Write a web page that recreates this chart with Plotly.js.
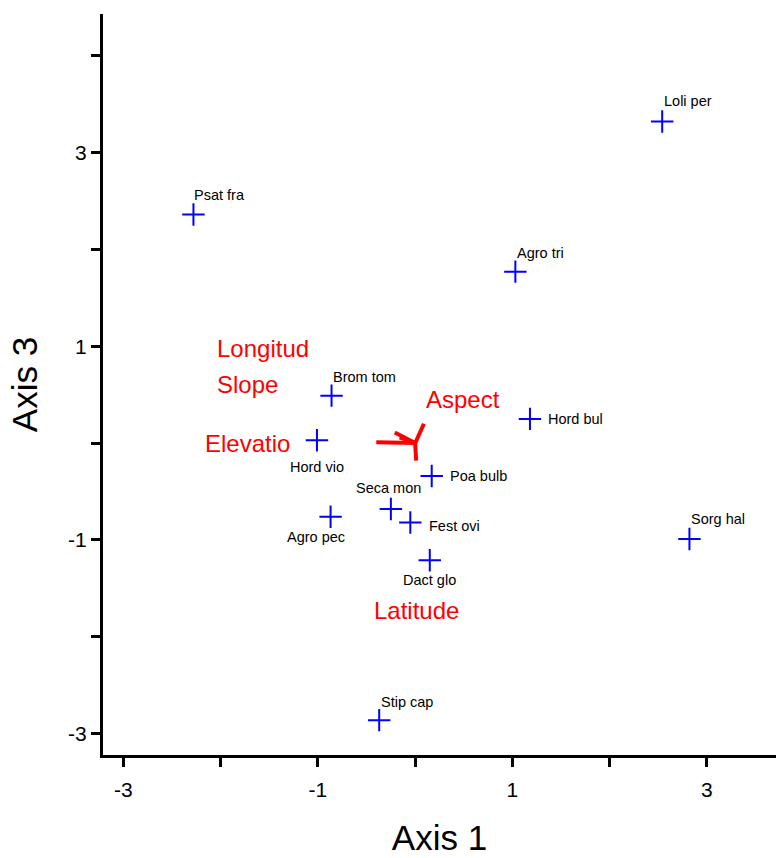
<!DOCTYPE html>
<html>
<head>
<meta charset="utf-8">
<script src="https://cdn.plot.ly/plotly-3.0.1.min.js"></script>
<style>html,body{margin:0;padding:0;background:#fff;}#chart{width:776px;height:858px;}</style>
</head>
<body>
<div id="chart"></div>
<script>
// Species scores
const species = ["Psat fra","Loli per","Agro tri","Brom tom","Hord bul","Hord vio","Poa bulb","Seca mon","Fest ovi","Agro pec","Dact glo","Sorg hal","Stip cap"];
const axis1 = [-2.28, 2.54, 1.03, -0.86, 1.18, -1.01, 0.17, -0.25, -0.05, -0.87, 0.15, 2.82, -0.37];
const axis3 = [2.36, 3.32, 1.77, 0.49, 0.25, 0.03, -0.34, -0.68, -0.82, -0.76, -1.21, -0.99, -2.86];

// Environmental vectors (end points, from origin)
const envNames = ["Longitud","Slope","Elevatio","Aspect","Latitude"];
const envX = [-0.21, -0.16, -0.40, 0.09, 0.01];
const envY = [0.11, 0.06, 0.01, 0.20, -0.18];
// Environmental label positions
const envLabelX = [-1.56, -1.72, -1.72, 0.49, 0.01];
const envLabelY = [0.98, 0.60, 0.00, 0.45, -1.73];

// Axis ticks
const xTicks = [-3,-2,-1,0,1,2,3];
const xTickText = ["-3","","-1","","1","","3"];
const yTicks = [-3,-2,-1,0,1,2,3,4];
const yTickText = ["-3","","-1","","1","","3",""];

// Label placement (style): [xanchor, xshift, yshift]
const place = {
  "Psat fra":["left",-1,20], "Loli per":["left",0,21], "Agro tri":["left",0,19],
  "Brom tom":["left",-1,19], "Sorg hal":["left",0,20], "Stip cap":["left",0,18],
  "Hord bul":["left",16,0], "Poa bulb":["left",16,0], "Fest ovi":["left",17,-3],
  "Hord vio":["center",0,-27], "Seca mon":["center",-2,21], "Agro pec":["center",-15,-20],
  "Dact glo":["center",0,-20]
};

const FONT = 'Liberation Sans';
const traces = [];
// vectors
envNames.forEach((n,i)=>{
  traces.push({x:[0, envX[i]], y:[0, envY[i]], mode:'lines', type:'scatter',
    line:{color:'#ff0000', width:4}, hoverinfo:'skip', showlegend:false});
});
traces.push({
  x: axis1, y: axis3, mode:'markers', type:'scatter', text: species,
  marker:{symbol:'cross-thin-open', size:16, color:'#0000ff', line:{color:'#0000ff', width:2}},
  showlegend:false
});

const annotations = [];
species.forEach((s,i)=>{
  const p = place[s];
  annotations.push({x: axis1[i], y: axis3[i], text: s, showarrow:false,
    xanchor: p[0], yanchor:'middle', xshift: p[1], yshift: p[2],
    font:{family:FONT, size:14.5, color:'#000'}});
});
envNames.forEach((n,i)=>{
  annotations.push({x: envLabelX[i], y: envLabelY[i], text: n, showarrow:false,
    xanchor:'center', yanchor:'middle',
    font:{family:FONT, size:24, color:'#ff0000'}});
});

const layout = {
  width:776, height:858,
  margin:{l:103, r:0, t:14, b:103},
  paper_bgcolor:'#fff', plot_bgcolor:'#fff',
  font:{family:FONT, color:'#000'},
  xaxis:{range:[-3.21, 3.71], tickvals:xTicks, ticktext:xTickText, ticks:'outside',
    ticklen:9, tickwidth:3, tickcolor:'#000', showline:true, linewidth:3, linecolor:'#000',
    showgrid:false, zeroline:false, tickfont:{family:FONT, size:21}, ticklabelstandoff:5,
    title:{text:'Axis 1', font:{family:FONT, size:35}, standoff:26}},
  yaxis:{range:[-3.22, 4.43], tickvals:yTicks, ticktext:yTickText, ticks:'outside',
    ticklen:9, tickwidth:3, tickcolor:'#000', showline:true, linewidth:3, linecolor:'#000',
    showgrid:false, zeroline:false, tickfont:{family:FONT, size:21},
    title:{text:'Axis 3', font:{family:FONT, size:35}, standoff:20}},
  annotations: annotations
};
Plotly.newPlot('chart', traces, layout, {displayModeBar:false, staticPlot:true});
</script>
</body>
</html>
